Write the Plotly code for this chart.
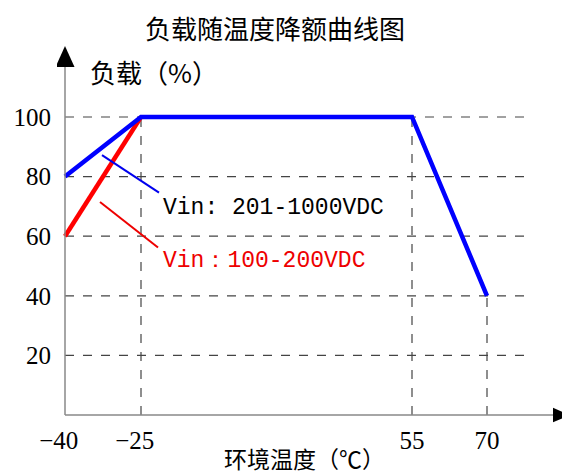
import numpy as np
import plotly.graph_objects as go

# ---- data ----
temp_ticks = [-40, -25, 55, 70]
load_ticks = [20, 40, 60, 80, 100]
blue_temp = [-40, -25, 55, 70]
blue_load = [80, 100, 100, 40]
red_temp = [-40, -25]
red_load = [60, 100]
blue_label = "Vin: 201-1000VDC"
red_label = "Vin：100-200VDC"

# ---- non-linear x scale (piecewise linear, as in the reference drawing) ----
X_SCALE_POS = [0, 76, 347, 422]


def xs(v):
    return np.interp(v, temp_ticks, X_SCALE_POS)


CJK = "Noto Sans CJK SC"
SERIF = "Liberation Serif"
MONO = "Liberation Mono"
GRID = "#444444"

fig = go.Figure()

shapes = []
# horizontal dashed grid lines
for v in load_ticks:
    shapes.append(dict(type="line", xref="x", yref="y", x0=0, x1=466, y0=v, y1=v,
                       line=dict(color=GRID, width=1.2, dash="dash"), layer="below"))
# vertical dashed drop lines from the curve corners
for t, l in zip(blue_temp[1:], blue_load[1:]):
    shapes.append(dict(type="line", xref="x", yref="y", x0=float(xs(t)), x1=float(xs(t)), y0=0, y1=l,
                       line=dict(color=GRID, width=1.2, dash="dash"), layer="below"))
# axes
shapes.append(dict(type="line", xref="x", yref="y", x0=0, x1=0, y0=0, y1=117,
                   line=dict(color="#888888", width=1.5)))
shapes.append(dict(type="line", xref="x", yref="y", x0=0, x1=490, y0=0, y1=0,
                   line=dict(color="#888888", width=1.5)))
# arrow heads
shapes.append(dict(type="path", xref="x", yref="y",
                   path="M -9.5,116.8 L 9.5,116.8 L 0,123.8 Z", fillcolor="black", line=dict(width=0)))
shapes.append(dict(type="path", xref="x", yref="y",
                   path="M 488,2.4 L 488,-2.4 L 505,0 Z", fillcolor="black", line=dict(width=0)))
# leader lines to the labels
shapes.append(dict(type="line", xref="x", yref="y", x0=37, y0=87.2, x1=94, y1=74.6,
                   line=dict(color="#0000ee", width=2)))
shapes.append(dict(type="line", xref="x", yref="y", x0=35, y0=71.5, x1=93, y1=56.2,
                   line=dict(color="#ee0000", width=2)))

fig.add_trace(go.Scatter(x=xs(red_temp), y=red_load, mode="lines",
                         line=dict(color="#ff0000", width=4.5), showlegend=False,
                         cliponaxis=False))
fig.add_trace(go.Scatter(x=xs(blue_temp), y=blue_load, mode="lines",
                         line=dict(color="#0000ff", width=4.5), showlegend=False,
                         cliponaxis=False))

annotations = [
    dict(text="负载随温度降额曲线图", xref="x", yref="paper", x=210, y=1,
         xanchor="center", yanchor="middle", yshift=16, showarrow=False,
         font=dict(family=CJK, size=26, color="black")),
    dict(text="负载（%）", xref="x", yref="y", x=23, y=115.3, xanchor="left", yanchor="middle",
         showarrow=False, font=dict(family=CJK, size=26, color="black")),
    dict(text="环境温度（℃）", xref="x", yref="paper", x=239, y=0, xanchor="center",
         yanchor="middle", yshift=-35, showarrow=False,
         font=dict(family=CJK, size=23, color="black")),
    dict(text=blue_label, xref="x", yref="y", x=96, y=69.5, xanchor="left", yanchor="middle",
         showarrow=False, font=dict(family=MONO, size=23, color="black")),
    dict(text=red_label, xref="x", yref="y", x=96, y=51.7, xanchor="left", yanchor="middle",
         showarrow=False, font=dict(family=MONO, size=23, color="#ee0000")),
]

fig.update_layout(
    width=562, height=467,
    margin=dict(l=49, r=0, t=35, b=52, autoexpand=False),
    paper_bgcolor="white", plot_bgcolor="white",
    shapes=shapes, annotations=annotations,
    xaxis=dict(range=[-8, 505], tickvals=xs(temp_ticks),
               ticktext=[("−" + str(-t) + "\u2002") if t < 0 else str(t) for t in temp_ticks],
               showgrid=False, zeroline=False, showline=False, ticks="",
               automargin=False, ticklabelstandoff=0,
               tickfont=dict(family=SERIF, size=25, color="black")),
    yaxis=dict(range=[-2.68, 124.83], tickvals=load_ticks, ticktext=[str(v) for v in load_ticks],
               showgrid=False, zeroline=False, showline=False, ticks="",
               automargin=False, ticklabelstandoff=5,
               tickfont=dict(family=SERIF, size=25, color="black")),
)

fig.write_html("out.html")
